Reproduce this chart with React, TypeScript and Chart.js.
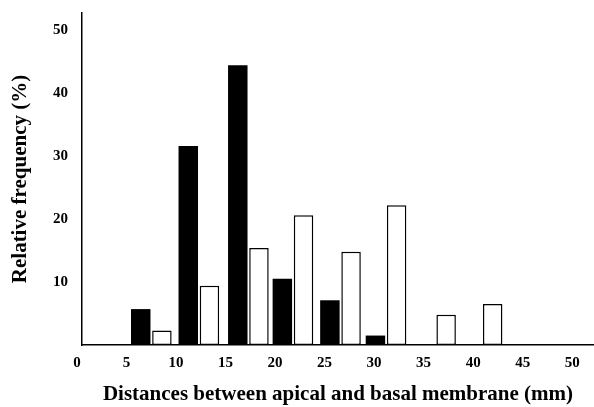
import React, { useEffect, useRef } from "react";
import { Chart, registerables } from "chart.js";

Chart.register(...registerables);

// Group centres (mm), read relative to the y axis line
const groupCentres = [7.0, 11.8, 16.8, 21.3, 26.1, 30.7, 35.7, 40.4];
// Relative frequency (%) – black bars
const blackSeries = [5.7, 31.6, 44.4, 10.5, 7.1, 1.5, 0, 0];
// Relative frequency (%) – white bars
const whiteSeries = [2.3, 9.4, 15.4, 20.6, 14.8, 22.2, 4.8, 6.5];

const xTicks = [0, 5, 10, 15, 20, 25, 30, 35, 40, 45, 50];
const yTicks = [10, 20, 30, 40, 50];

const xTitle = "Distances between apical and basal membrane (mm)";
const yTitle = "Relative frequency (%)";

const FONT = "'Liberation Serif', 'Times New Roman', serif";

export default function App() {
  const ref = useRef<HTMLCanvasElement | null>(null);

  useEffect(() => {
    if (!ref.current) return;
    const chart = new Chart(ref.current, {
      type: "bar",
      data: {
        datasets: [
          {
            label: "black",
            data: groupCentres.map((x, i) => ({ x, y: blackSeries[i] })),
            backgroundColor: "#000000",
            borderColor: "#000000",
            borderWidth: 0,
            categoryPercentage: 0.95,
            barPercentage: 0.92,
          },
          {
            label: "white",
            data: groupCentres.map((x, i) => ({ x, y: whiteSeries[i] })),
            backgroundColor: "#ffffff",
            borderColor: "#000000",
            borderWidth: 1.5,
            borderSkipped: false,
            categoryPercentage: 0.95,
            barPercentage: 0.92,
          },
        ],
      },
      options: {
        animation: false,
        responsive: false,
        maintainAspectRatio: false,
        layout: { padding: { top: 13, right: 0, left: 0, bottom: 0 } },
        plugins: { legend: { display: false }, tooltip: { enabled: false } },
        scales: {
          x: {
            type: "linear",
            offset: false,
            min: 0,
            max: 51.7,
            afterBuildTicks: (s: any) => {
              s.ticks = xTicks.map((v) => ({ value: v }));
            },
            afterFit: (s: any) => {
              s.height = 62;
              s.paddingLeft = 0;
              s.paddingRight = 0;
            },
            grid: { display: false, drawTicks: false, offset: false },
            border: { display: true, color: "#000", width: 1.5 },
            ticks: {
              color: "#000",
              font: { family: FONT, size: 15, weight: "bold" },
              padding: 9,
              labelOffset: -5,
              maxRotation: 0,
              autoSkip: false,
            },
            title: {
              display: true,
              text: xTitle,
              color: "#000",
              font: { family: FONT, size: 21, weight: "bold" },
              padding: { top: 0, bottom: 0 },
            },
          },
          y: {
            min: 0,
            max: 52.7,
            afterBuildTicks: (s: any) => {
              s.ticks = yTicks.map((v) => ({ value: v }));
            },
            afterFit: (s: any) => {
              s.width = 82;
              s.paddingTop = 0;
              s.paddingBottom = 0;
            },
            grid: { display: false, drawTicks: false },
            border: { display: true, color: "#000", width: 1.5 },
            ticks: {
              color: "#000",
              font: { family: FONT, size: 15, weight: "bold" },
              padding: 14,
            },
            title: {
              display: true,
              text: yTitle,
              color: "#000",
              font: { family: FONT, size: 21, weight: "bold" },
              padding: { top: 8, bottom: 0 },
            },
          },
        },
      },
    });
    return () => chart.destroy();
  }, []);

  return (
    <div style={{ position: "absolute", left: 0, top: 0, width: 594, height: 407, background: "#fff" }}>
      <canvas ref={ref} width={594} height={407} style={{ width: 594, height: 407 }} />
    </div>
  );
}
